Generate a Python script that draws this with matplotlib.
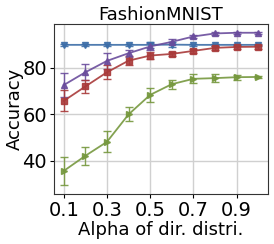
import matplotlib
matplotlib.use("Agg")
import matplotlib.pyplot as plt

alphas = [0.1, 0.2, 0.3, 0.4, 0.5, 0.6, 0.7, 0.8, 0.9, 1.0]
blue = [89.9, 89.9, 89.9, 89.9, 89.9, 90.0, 89.9, 89.9, 89.9, 89.9]
blue_err = [0.3, 0.3, 0.3, 0.3, 1.2, 1.0, 0.3, 0.3, 0.3, 0.3]
purple = [72.6, 78.1, 83.0, 86.3, 89.2, 91.2, 93.5, 94.8, 95.1, 95.1]
purple_err = [5.0, 3.5, 3.3, 1.5, 1.5, 1.0, 0.8, 0.6, 0.5, 0.4]
red = [65.8, 72.0, 78.1, 83.1, 85.3, 86.0, 87.3, 88.6, 89.0, 89.1]
red_err = [4.5, 3.0, 3.0, 2.0, 1.5, 0.8, 0.8, 0.8, 0.8, 0.8]
green = [35.7, 42.2, 48.2, 60.0, 68.4, 73.0, 75.3, 75.6, 76.0, 76.1]
green_err = [6.0, 4.0, 4.5, 3.0, 3.0, 2.0, 2.0, 1.8, 1.0, 0.5]
xticks = [0.1, 0.3, 0.5, 0.7, 0.9]
yticks = [40, 60, 80]

fig = plt.figure(figsize=(2.74, 2.44), dpi=100)
ax = fig.add_axes([0.197, 0.205, 0.781, 0.697])

series = [
    (blue, blue_err, '#3D6EA8', 'v'),
    (purple, purple_err, '#6A4C9C', '^'),
    (red, red_err, '#A93A3A', 's'),
    (green, green_err, '#76983E', '>'),
]
for vals, errs, col, mk in series:
    ax.errorbar(alphas, vals, yerr=errs, color=col, marker=mk, markersize=4,
                linewidth=1.3, elinewidth=1.0, capsize=3, capthick=1.0, alpha=0.9)

ax.set_xticks(xticks)
ax.set_xticklabels([str(t) for t in xticks])
ax.set_yticks(yticks)
ax.set_ylim(25.8, 98.9)
ax.set_xlim(0.055, 1.045)
ax.grid(True, color='#d0d0d0', linewidth=1)
ax.set_axisbelow(True)
for s in ax.spines.values():
    s.set_color('#333333')
ax.tick_params(labelsize=14, length=3, pad=2)
ax.set_title('FashionMNIST', fontsize=13, pad=3)
ax.set_xlabel('Alpha of dir. distri.', fontsize=13, labelpad=1)
ax.set_ylabel('Accuracy', fontsize=13, labelpad=-1)
fig.savefig('out.png', dpi=100)
